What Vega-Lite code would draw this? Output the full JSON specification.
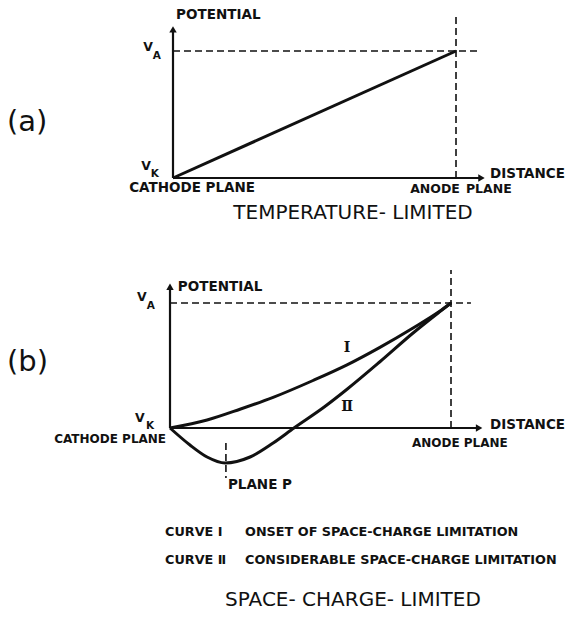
{
  "$schema": "https://vega.github.io/schema/vega-lite/v6.json",
  "padding": 0,
  "autosize": {"type": "pad"},
  "background": "white",
  "spacing": 0,
  "bounds": "flush",
  "config": {
    "view": {"stroke": null},
    "text": {"font": "DejaVu Sans", "color": "#111"}
  },
  "datasets": {
    "a_segments": [
      {"d": 0, "v": 0, "d2": 0, "v2": 1.17, "style": "solid"},
      {"d": 0, "v": 0, "d2": 1.09, "v2": 0, "style": "solid"},
      {"d": 0, "v": 1, "d2": 1.078, "v2": 1, "style": "dashed"},
      {"d": 1, "v": 0, "d2": 1, "v2": 1.268, "style": "dashed"}
    ],
    "a_curve": [{"d": 0, "v": 0}, {"d": 1, "v": 1}],
    "a_arrows": [{"d": 0, "v": 1.17, "dir": "up"}, {"d": 1.09, "v": 0, "dir": "right"}],
    "a_labels": [
      {"d": 0.011, "v": 1.283, "text": "POTENTIAL", "role": "axis"},
      {"d": -0.155, "v": -0.079, "text": "CATHODE PLANE", "role": "axis"},
      {"d": 0.838, "v": -0.087, "text": "ANODE", "role": "axis_s"},
      {"d": 1.035, "v": -0.087, "text": "PLANE", "role": "axis_s"},
      {"d": 1.12, "v": 0.031, "text": "DISTANCE", "role": "axis"},
      {"d": -0.088, "v": 1.031, "text": "V", "role": "sym"},
      {"d": -0.095, "v": 0.094, "text": "V", "role": "sym"},
      {"d": -0.057, "v": 0.961, "text": "A", "role": "sub"},
      {"d": -0.064, "v": 0.031, "text": "K", "role": "sub"},
      {"d": -0.587, "v": 0.441, "text": "(a)", "role": "panel"},
      {"d": 0.636, "v": -0.276, "text": "TEMPERATURE- LIMITED", "role": "caption"}
    ],
    "b_segments": [
      {"d": 0, "v": 0, "d2": 0, "v2": 1.13, "style": "solid"},
      {"d": 0, "v": 0, "d2": 1.1, "v2": 0, "style": "solid"},
      {"d": 0, "v": 1, "d2": 1.071, "v2": 1, "style": "dashed"},
      {"d": 1, "v": 0, "d2": 1, "v2": 1.264, "style": "dashed"},
      {"d": 0.199, "v": -0.12, "d2": 0.199, "v2": -0.4, "style": "dashed"}
    ],
    "b_curves": [
      {"curve": "I", "d": 0, "v": 0},
      {"curve": "I", "d": 0.132, "v": 0.064},
      {"curve": "I", "d": 0.249, "v": 0.15},
      {"curve": "I", "d": 0.367, "v": 0.245},
      {"curve": "I", "d": 0.509, "v": 0.38},
      {"curve": "I", "d": 0.63, "v": 0.505},
      {"curve": "I", "d": 0.747, "v": 0.645},
      {"curve": "I", "d": 0.865, "v": 0.8},
      {"curve": "I", "d": 0.957, "v": 0.93},
      {"curve": "I", "d": 1, "v": 1},
      {"curve": "II", "d": 0, "v": 0},
      {"curve": "II", "d": 0.071, "v": -0.136},
      {"curve": "II", "d": 0.132, "v": -0.232},
      {"curve": "II", "d": 0.196, "v": -0.28},
      {"curve": "II", "d": 0.285, "v": -0.232},
      {"curve": "II", "d": 0.367, "v": -0.12},
      {"curve": "II", "d": 0.441, "v": 0},
      {"curve": "II", "d": 0.55, "v": 0.17},
      {"curve": "II", "d": 0.63, "v": 0.31},
      {"curve": "II", "d": 0.747, "v": 0.53},
      {"curve": "II", "d": 0.865, "v": 0.76},
      {"curve": "II", "d": 0.957, "v": 0.925},
      {"curve": "II", "d": 1, "v": 1}
    ],
    "b_arrows": [{"d": 0, "v": 1.13, "dir": "up"}, {"d": 1.1, "v": 0, "dir": "right"}],
    "b_labels": [
      {"d": 0.028, "v": 1.128, "text": "POTENTIAL", "role": "axis"},
      {"d": -0.014, "v": -0.088, "text": "CATHODE PLANE", "role": "axis_r"},
      {"d": 1.139, "v": 0.024, "text": "DISTANCE", "role": "axis"},
      {"d": 0.861, "v": -0.12, "text": "ANODE PLANE", "role": "axis_s"},
      {"d": 0.206, "v": -0.456, "text": "PLANE P", "role": "axis"},
      {"d": -0.1, "v": 1.048, "text": "V", "role": "sym"},
      {"d": -0.107, "v": 0.08, "text": "V", "role": "sym"},
      {"d": -0.068, "v": 0.976, "text": "A", "role": "sub"},
      {"d": -0.071, "v": 0.016, "text": "K", "role": "sub"},
      {"d": -0.58, "v": 0.528, "text": "(b)", "role": "panel"},
      {"d": 0.63, "v": 0.64, "text": "Ⅰ", "role": "numeral"},
      {"d": 0.63, "v": 0.168, "text": "Ⅱ", "role": "numeral"},
      {"d": -0.0178, "v": -0.832, "text": "CURVE Ⅰ", "role": "legend"},
      {"d": 0.267, "v": -0.832, "text": "ONSET OF SPACE-CHARGE LIMITATION", "role": "legend"},
      {"d": -0.0178, "v": -1.056, "text": "CURVE Ⅱ", "role": "legend"},
      {"d": 0.267, "v": -1.056, "text": "CONSIDERABLE SPACE-CHARGE LIMITATION", "role": "legend"},
      {"d": 0.651, "v": -1.376, "text": "SPACE- CHARGE- LIMITED", "role": "caption"}
    ]
  },
  "vconcat": [
    {
      "width": 567,
      "height": 240,
      "encoding": {
        "x": {"field": "d", "type": "quantitative", "scale": {"domain": [-0.6113, 1.3922], "nice": false, "zero": false}, "axis": null},
        "y": {"field": "v", "type": "quantitative", "scale": {"domain": [-0.4882, 1.4016], "nice": false, "zero": false}, "axis": null}
      },
      "layer": [
        {"data": {"name": "a_segments"}, "transform": [{"filter": "datum.style == 'solid'"}],
         "mark": {"type": "rule", "strokeWidth": 2.2, "color": "#111"},
         "encoding": {"x2": {"field": "d2"}, "y2": {"field": "v2"}}},
        {"data": {"name": "a_segments"}, "transform": [{"filter": "datum.style == 'dashed'"}],
         "mark": {"type": "rule", "strokeWidth": 1.6, "strokeDash": [7, 4], "color": "#111"},
         "encoding": {"x2": {"field": "d2"}, "y2": {"field": "v2"}}},
        {"data": {"name": "a_curve"}, "mark": {"type": "line", "strokeWidth": 3, "color": "#111"}, "encoding": {}},
        {"data": {"name": "a_arrows"}, "transform": [{"filter": "datum.dir == 'up'"}],
         "mark": {"type": "point", "shape": "triangle-up", "filled": true, "size": 55, "color": "#111", "opacity": 1}, "encoding": {}},
        {"data": {"name": "a_arrows"}, "transform": [{"filter": "datum.dir == 'right'"}],
         "mark": {"type": "point", "shape": "triangle-right", "filled": true, "size": 55, "color": "#111", "opacity": 1}, "encoding": {}},
        {"data": {"name": "a_labels"}, "transform": [{"filter": "datum.role == 'axis'"}],
         "mark": {"type": "text", "align": "left", "baseline": "middle", "fontSize": 13.5, "fontWeight": "bold"},
         "encoding": {"text": {"field": "text"}}},
        {"data": {"name": "a_labels"}, "transform": [{"filter": "datum.role == 'axis_s'"}],
         "mark": {"type": "text", "align": "left", "baseline": "middle", "fontSize": 12.5, "fontWeight": "bold"},
         "encoding": {"text": {"field": "text"}}},
        {"data": {"name": "a_labels"}, "transform": [{"filter": "datum.role == 'sym'"}],
         "mark": {"type": "text", "align": "center", "baseline": "middle", "fontSize": 12.5, "fontWeight": "bold"},
         "encoding": {"text": {"field": "text"}}},
        {"data": {"name": "a_labels"}, "transform": [{"filter": "datum.role == 'sub'"}],
         "mark": {"type": "text", "align": "center", "baseline": "middle", "fontSize": 10.5, "fontWeight": "bold"},
         "encoding": {"text": {"field": "text"}}},
        {"data": {"name": "a_labels"}, "transform": [{"filter": "datum.role == 'panel'"}],
         "mark": {"type": "text", "align": "left", "baseline": "middle", "fontSize": 29},
         "encoding": {"text": {"field": "text"}}},
        {"data": {"name": "a_labels"}, "transform": [{"filter": "datum.role == 'caption'"}],
         "mark": {"type": "text", "align": "center", "baseline": "middle", "fontSize": 20},
         "encoding": {"text": {"field": "text"}}}
      ]
    },
    {
      "width": 567,
      "height": 384,
      "encoding": {
        "x": {"field": "d", "type": "quantitative", "scale": {"domain": [-0.605, 1.4128], "nice": false, "zero": false}, "axis": null},
        "y": {"field": "v", "type": "quantitative", "scale": {"domain": [-1.568, 1.504], "nice": false, "zero": false}, "axis": null}
      },
      "layer": [
        {"data": {"name": "b_segments"}, "transform": [{"filter": "datum.style == 'solid'"}],
         "mark": {"type": "rule", "strokeWidth": 2.2, "color": "#111"},
         "encoding": {"x2": {"field": "d2"}, "y2": {"field": "v2"}}},
        {"data": {"name": "b_segments"}, "transform": [{"filter": "datum.style == 'dashed'"}],
         "mark": {"type": "rule", "strokeWidth": 1.6, "strokeDash": [7, 4], "color": "#111"},
         "encoding": {"x2": {"field": "d2"}, "y2": {"field": "v2"}}},
        {"data": {"name": "b_curves"}, "mark": {"type": "line", "strokeWidth": 3, "color": "#111", "interpolate": "monotone"},
         "encoding": {"detail": {"field": "curve", "type": "nominal"}}},
        {"data": {"name": "b_arrows"}, "transform": [{"filter": "datum.dir == 'up'"}],
         "mark": {"type": "point", "shape": "triangle-up", "filled": true, "size": 55, "color": "#111", "opacity": 1}, "encoding": {}},
        {"data": {"name": "b_arrows"}, "transform": [{"filter": "datum.dir == 'right'"}],
         "mark": {"type": "point", "shape": "triangle-right", "filled": true, "size": 55, "color": "#111", "opacity": 1}, "encoding": {}},
        {"data": {"name": "b_labels"}, "transform": [{"filter": "datum.role == 'axis'"}],
         "mark": {"type": "text", "align": "left", "baseline": "middle", "fontSize": 13.5, "fontWeight": "bold"},
         "encoding": {"text": {"field": "text"}}},
        {"data": {"name": "b_labels"}, "transform": [{"filter": "datum.role == 'axis_s'"}],
         "mark": {"type": "text", "align": "left", "baseline": "middle", "fontSize": 12, "fontWeight": "bold"},
         "encoding": {"text": {"field": "text"}}},
        {"data": {"name": "b_labels"}, "transform": [{"filter": "datum.role == 'axis_r'"}],
         "mark": {"type": "text", "align": "right", "baseline": "middle", "fontSize": 12, "fontWeight": "bold"},
         "encoding": {"text": {"field": "text"}}},
        {"data": {"name": "b_labels"}, "transform": [{"filter": "datum.role == 'sym'"}],
         "mark": {"type": "text", "align": "center", "baseline": "middle", "fontSize": 12.5, "fontWeight": "bold"},
         "encoding": {"text": {"field": "text"}}},
        {"data": {"name": "b_labels"}, "transform": [{"filter": "datum.role == 'sub'"}],
         "mark": {"type": "text", "align": "center", "baseline": "middle", "fontSize": 10.5, "fontWeight": "bold"},
         "encoding": {"text": {"field": "text"}}},
        {"data": {"name": "b_labels"}, "transform": [{"filter": "datum.role == 'panel'"}],
         "mark": {"type": "text", "align": "left", "baseline": "middle", "fontSize": 29},
         "encoding": {"text": {"field": "text"}}},
        {"data": {"name": "b_labels"}, "transform": [{"filter": "datum.role == 'numeral'"}],
         "mark": {"type": "text", "align": "center", "baseline": "middle", "fontSize": 14, "fontWeight": "bold", "font": "DejaVu Serif"},
         "encoding": {"text": {"field": "text"}}},
        {"data": {"name": "b_labels"}, "transform": [{"filter": "datum.role == 'legend'"}],
         "mark": {"type": "text", "align": "left", "baseline": "middle", "fontSize": 12.8, "fontWeight": "bold"},
         "encoding": {"text": {"field": "text"}}},
        {"data": {"name": "b_labels"}, "transform": [{"filter": "datum.role == 'caption'"}],
         "mark": {"type": "text", "align": "center", "baseline": "middle", "fontSize": 20},
         "encoding": {"text": {"field": "text"}}}
      ]
    }
  ]
}
